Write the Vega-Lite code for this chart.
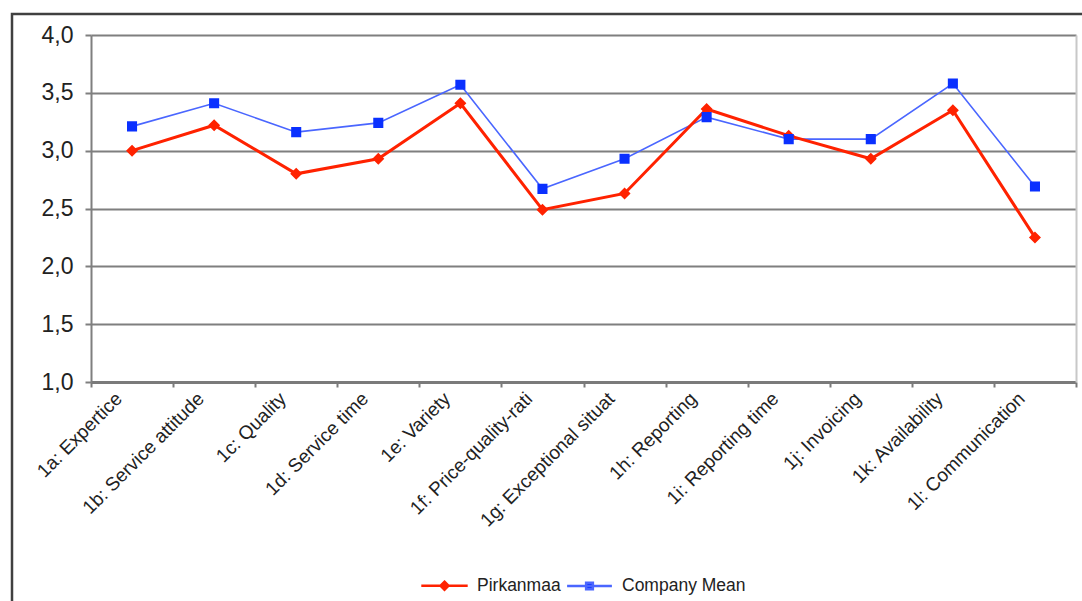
{
  "$schema": "https://vega.github.io/schema/vega-lite/v6.json",
  "width": 1082,
  "height": 601,
  "autosize": {"type": "none"},
  "padding": {"left": 12, "top": 14, "right": -12, "bottom": -14},
  "background": "white",
  "config": {
    "font": "Liberation Sans",
    "view": {"stroke": "#404040", "strokeWidth": 2.5}
  },
  "data": {
    "values": [
      {"cat": "1a: Expertice", "series": "Pirkanmaa", "value": 3.00},
      {"cat": "1b: Service attitude", "series": "Pirkanmaa", "value": 3.22},
      {"cat": "1c: Quality", "series": "Pirkanmaa", "value": 2.80},
      {"cat": "1d: Service time", "series": "Pirkanmaa", "value": 2.93},
      {"cat": "1e: Variety", "series": "Pirkanmaa", "value": 3.41},
      {"cat": "1f: Price-quality-ratio", "series": "Pirkanmaa", "value": 2.49},
      {"cat": "1g: Exceptional situations", "series": "Pirkanmaa", "value": 2.63},
      {"cat": "1h: Reporting", "series": "Pirkanmaa", "value": 3.36},
      {"cat": "1i: Reporting time", "series": "Pirkanmaa", "value": 3.13},
      {"cat": "1j: Invoicing", "series": "Pirkanmaa", "value": 2.93},
      {"cat": "1k: Availability", "series": "Pirkanmaa", "value": 3.35},
      {"cat": "1l: Communication", "series": "Pirkanmaa", "value": 2.25},
      {"cat": "1a: Expertice", "series": "Company Mean", "value": 3.21},
      {"cat": "1b: Service attitude", "series": "Company Mean", "value": 3.41},
      {"cat": "1c: Quality", "series": "Company Mean", "value": 3.16},
      {"cat": "1d: Service time", "series": "Company Mean", "value": 3.24},
      {"cat": "1e: Variety", "series": "Company Mean", "value": 3.57},
      {"cat": "1f: Price-quality-ratio", "series": "Company Mean", "value": 2.67},
      {"cat": "1g: Exceptional situations", "series": "Company Mean", "value": 2.93},
      {"cat": "1h: Reporting", "series": "Company Mean", "value": 3.29},
      {"cat": "1i: Reporting time", "series": "Company Mean", "value": 3.10},
      {"cat": "1j: Invoicing", "series": "Company Mean", "value": 3.10},
      {"cat": "1k: Availability", "series": "Company Mean", "value": 3.58},
      {"cat": "1l: Communication", "series": "Company Mean", "value": 2.69}
    ]
  },
  "encoding": {
    "x": {
      "field": "cat",
      "type": "nominal",
      "sort": null,
      "bandPosition": 0.5,
      "scale": {"type": "band", "range": [79, 1064], "paddingInner": 0, "paddingOuter": 0}
    },
    "y": {
      "field": "value",
      "type": "quantitative",
      "scale": {"domain": [1, 4], "range": [368, 21], "nice": false, "zero": false}
    }
  },
  "layer": [
    {
      "transform": [{"filter": "datum.series === 'Company Mean'"}],
      "mark": {"type": "line", "color": "#4a66ff", "strokeWidth": 1.6},
      "encoding": {
        "x": {
          "field": "cat",
          "type": "nominal",
          "sort": null,
          "bandPosition": 0.5,
          "title": null,
          "axis": {
            "orient": "bottom",
            "offset": -233,
            "tickBand": "extent",
            "labelAngle": -45,
            "labelFontSize": 19,
            "labelColor": "#222222",
            "labelLimit": 400,
            "labelExpr": "truncate(datum.label, 22, 'right', '')",
            "labelOffset": -20,
            "labelPadding": 2,
            "domainColor": "#7a7a7a",
            "domainWidth": 3,
            "tickColor": "#7a7a7a",
            "tickWidth": 2,
            "tickSize": 5,
            "grid": false
          }
        },
        "y": {
          "field": "value",
          "type": "quantitative",
          "title": null,
          "axis": {
            "orient": "left",
            "offset": -79,
            "values": [1, 1.5, 2, 2.5, 3, 3.5, 4],
            "labelExpr": "replace(format(datum.value, '.1f'), '.', ',')",
            "labelFontSize": 23,
            "labelColor": "#222222",
            "labelPadding": 12,
            "grid": true,
            "gridColor": "#7f7f7f",
            "gridWidth": 2,
            "domainColor": "#7f7f7f",
            "domainWidth": 2,
            "tickColor": "#7f7f7f",
            "tickWidth": 2,
            "tickSize": 6
          }
        }
      }
    },
    {
      "transform": [{"filter": "datum.series === 'Pirkanmaa'"}],
      "mark": {"type": "line", "color": "#ff2200", "strokeWidth": 3},
      "encoding": {
        "y": {
          "field": "value",
          "type": "quantitative",
          "title": null,
          "axis": {
            "orient": "right",
            "offset": -18,
            "labels": false,
            "ticks": false,
            "grid": false,
            "domainColor": "#c8c8c8",
            "domainWidth": 2
          }
        }
      }
    },
    {
      "mark": {"type": "point", "filled": true, "opacity": 1, "size": 576, "strokeWidth": 0},
      "encoding": {
        "y": {"field": "value", "type": "quantitative", "axis": null},
        "color": {
          "field": "series",
          "type": "nominal",
          "scale": {"domain": ["Pirkanmaa", "Company Mean"], "range": ["#ff2200", "#0a30ff"]},
          "legend": {
            "title": null,
            "orient": "none",
            "direction": "horizontal",
            "legendX": 423,
            "legendY": 562,
            "symbolSize": 256,
            "symbolStrokeWidth": 2.5,
            "symbolOpacity": 1,
            "labelFontSize": 17.5,
            "labelColor": "#222222",
            "labelOffset": 23,
            "columnPadding": 1
          }
        },
        "stroke": {
          "field": "series",
          "type": "nominal",
          "scale": {"domain": ["Pirkanmaa", "Company Mean"], "range": ["#ff2200", "#4a66ff"]}
        },
        "shape": {
          "field": "series",
          "type": "nominal",
          "scale": {
            "domain": ["Pirkanmaa", "Company Mean"],
            "range": [
              "M-2.9,0H2.9M0,-0.5L0.5,0L0,0.5L-0.5,0Z",
              "M-2.8,0H2.8M-0.42,-0.42H0.42V0.42H-0.42Z"
            ]
          }
        }
      }
    }
  ],
  "resolve": {"axis": {"y": "independent"}}
}
